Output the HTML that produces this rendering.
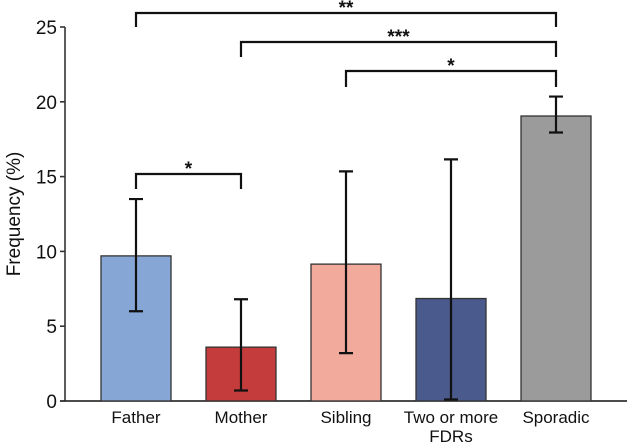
<!DOCTYPE html>
<html><head><meta charset="utf-8"><style>
body{margin:0;background:#fff;}
svg{display:block;font-family:"Liberation Sans",Arial,sans-serif;}
</style></head><body>
<svg id="chart" width="627" height="444"></svg>
<script>
const categories=["Father","Mother","Sibling","Two or more|FDRs","Sporadic"];
const values=[9.7,3.6,9.15,6.85,19.05];
const errLow=[6.0,0.7,3.2,0.1,17.95];
const errHigh=[13.5,6.8,15.35,16.15,20.35];
const colors=["#86a6d6","#c53c3c","#f1aa9c","#4a5a8c","#9b9b9b"];
const yTicks=[0,5,10,15,20,25];
const brackets=[[0,4,"**",13,27],[1,4,"***",42,57],[2,4,"*",71,87],[0,1,"*",174,189]];
const NS="http://www.w3.org/2000/svg";
const svg=document.getElementById('chart');
const y=v=>401-v*14.96;
const xc=i=>136+i*105;
function el(t,a){const e=document.createElementNS(NS,t);for(const k in a)e.setAttribute(k,a[k]);svg.appendChild(e);return e;}
let ax=el('line',{x1:65,y1:27,x2:65,y2:401,stroke:'#333','stroke-width':1.6});


let bx=el('line',{x1:60,y1:401,x2:627,y2:401,stroke:'#111','stroke-width':1.6});


yTicks.forEach(t=>{
  let l=el('line',{x1:60,y1:y(t),x2:65,y2:y(t),stroke:'#333','stroke-width':1.6});
  
  
  let tx=el('text',{x:57,y:y(t)+7,'text-anchor':'end','font-size':19,fill:'#111'});
  tx.textContent=t;
  
  
});
let yt=el('text',{x:0,y:0,transform:'translate(20,214) rotate(-90)','text-anchor':'middle','font-size':19,fill:'#111'});
yt.textContent='Frequency (%)';


categories.forEach((c,i)=>{
  let r=el('rect',{x:xc(i)-35,y:y(values[i]),width:70,height:401-y(values[i]),fill:colors[i],stroke:'#333','stroke-width':1.3});
  
  
  let g=el('path',{d:`M${xc(i)} ${y(errLow[i])}V${y(errHigh[i])}M${xc(i)-7} ${y(errLow[i])}h14M${xc(i)-7} ${y(errHigh[i])}h14`,stroke:'#111','stroke-width':2.2,fill:'none'});
  
  
  c.split('|').forEach((s,j)=>{
    let t=el('text',{x:xc(i),y:423+j*19,'text-anchor':'middle','font-size':17,fill:'#111'});
    t.textContent=s;
    
    
  });
});
brackets.forEach(b=>{
  const x1=xc(b[0]),x2=xc(b[1]);
  let p=el('path',{d:`M${x1} ${b[4]}V${b[3]}H${x2}V${b[4]}`,stroke:'#111','stroke-width':2.2,fill:'none'});
  
  
  let t=el('text',{x:(x1+x2)/2,y:b[3]+1,'text-anchor':'middle','font-size':19,'font-weight':'bold',fill:'#111'});
  t.textContent=b[2];
  
  
});
</script>
</body></html>
